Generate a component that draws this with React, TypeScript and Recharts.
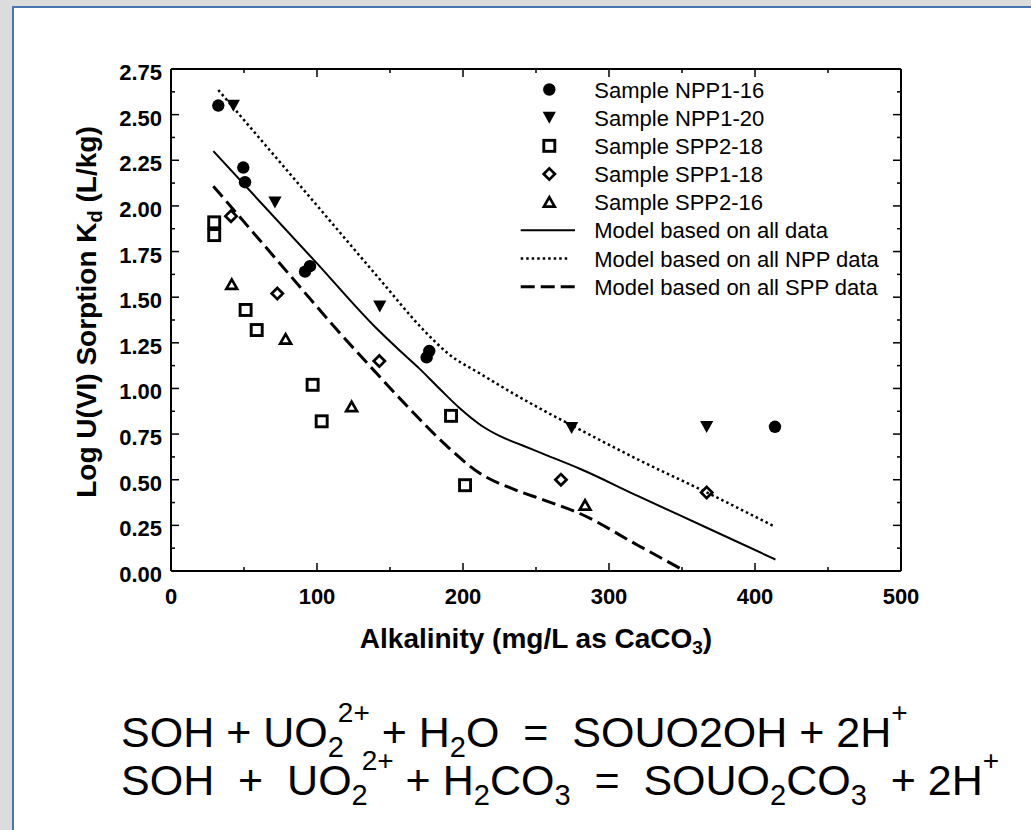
import React from 'react';
import { ComposedChart, Scatter, Line, XAxis, YAxis, Legend } from 'recharts';

const FONT = "'Liberation Sans', Arial, Helvetica, sans-serif";

// ---- axis ticks ----
const xTicks = [0, 50, 100, 150, 200, 250, 300, 350, 400, 450, 500];
const yTicks = [0, 0.125, 0.25, 0.375, 0.5, 0.625, 0.75, 0.875, 1, 1.125, 1.25, 1.375, 1.5, 1.625, 1.75, 1.875, 2, 2.125, 2.25, 2.375, 2.5, 2.625, 2.75];

// ---- sample data (alkalinity mg/L, log Kd) ----
const sampleNPP1_16 = [
  { x: 32.4, y: 2.55 }, { x: 49.5, y: 2.21 }, { x: 50.7, y: 2.13 },
  { x: 91.8, y: 1.64 }, { x: 95.2, y: 1.67 }, { x: 175.1, y: 1.17 },
  { x: 176.9, y: 1.205 }, { x: 413.7, y: 0.79 },
];
const sampleNPP1_20 = [
  { x: 42.7, y: 2.55 }, { x: 71.2, y: 2.02 }, { x: 143, y: 1.45 },
  { x: 274.4, y: 0.785 }, { x: 366.9, y: 0.79 },
];
const sampleSPP2_18 = [
  { x: 29.6, y: 1.91 }, { x: 29.6, y: 1.84 }, { x: 51.1, y: 1.43 },
  { x: 58.7, y: 1.32 }, { x: 97, y: 1.02 }, { x: 103.2, y: 0.82 },
  { x: 191.8, y: 0.85 }, { x: 201.4, y: 0.47 },
];
const sampleSPP1_18 = [
  { x: 41.1, y: 1.944 }, { x: 72.8, y: 1.52 }, { x: 142.7, y: 1.15 },
  { x: 267.1, y: 0.5 }, { x: 366.9, y: 0.43 },
];
const sampleSPP2_16 = [
  { x: 41.6, y: 1.57 }, { x: 78.5, y: 1.27 }, { x: 123.7, y: 0.9 },
  { x: 283.6, y: 0.36 },
];

// ---- model curves ----
const modelAll = [
  { x: 29, y: 2.3 }, { x: 100, y: 1.685 }, { x: 140, y: 1.335 }, { x: 155, y: 1.22 },
  { x: 170, y: 1.11 }, { x: 185, y: 0.99 }, { x: 198, y: 0.89 }, { x: 212, y: 0.8 },
  { x: 225, y: 0.74 }, { x: 240, y: 0.69 }, { x: 257, y: 0.635 }, { x: 280, y: 0.56 },
  { x: 320, y: 0.41 }, { x: 367, y: 0.237 }, { x: 414, y: 0.063 },
];
const modelNPP = [
  { x: 32.4, y: 2.635 }, { x: 100, y: 2.002 }, { x: 143, y: 1.598 }, { x: 173, y: 1.32 },
  { x: 190, y: 1.19 }, { x: 212, y: 1.08 }, { x: 235, y: 0.97 }, { x: 255, y: 0.88 },
  { x: 274, y: 0.8 }, { x: 320, y: 0.61 }, { x: 367, y: 0.43 }, { x: 413, y: 0.245 },
];
const modelSPP = [
  { x: 29, y: 2.108 }, { x: 80, y: 1.634 }, { x: 113.5, y: 1.323 }, { x: 140, y: 1.09 },
  { x: 166, y: 0.867 }, { x: 189, y: 0.684 }, { x: 211, y: 0.538 }, { x: 235, y: 0.447 },
  { x: 255, y: 0.39 }, { x: 280, y: 0.315 }, { x: 320, y: 0.14 }, { x: 352, y: 0 },
];

const sampleSeries = [
  { name: 'Sample NPP1-16', data: sampleNPP1_16, mark: 'circle' },
  { name: 'Sample NPP1-20', data: sampleNPP1_20, mark: 'triDown' },
  { name: 'Sample SPP2-18', data: sampleSPP2_18, mark: 'square' },
  { name: 'Sample SPP1-18', data: sampleSPP1_18, mark: 'diamond' },
  { name: 'Sample SPP2-16', data: sampleSPP2_16, mark: 'triUp' },
];
const modelSeries = [
  { name: 'Model based on all data', data: modelAll, width: 2, dash: undefined as string | undefined },
  { name: 'Model based on all NPP data', data: modelNPP, width: 2.5, dash: '2.5 3' },
  { name: 'Model based on all SPP data', data: modelSPP, width: 3, dash: '14 6' },
];

function Mark({ kind, cx, cy }: { kind: string; cx: number; cy: number }) {
  if (cx == null || cy == null) return null;
  switch (kind) {
    case 'circle':
      return <circle cx={cx} cy={cy} r={6.2} fill="#000" />;
    case 'triDown':
      return <polygon points={`${cx - 6.6},${cy - 5.8} ${cx + 6.6},${cy - 5.8} ${cx},${cy + 6.2}`} fill="#000" />;
    case 'square':
      return <rect x={cx - 5.5} y={cy - 5.5} width={11} height={11} fill="none" stroke="#000" strokeWidth={2.9} />;
    case 'diamond':
      return <polygon points={`${cx},${cy - 5.6} ${cx + 5.6},${cy} ${cx},${cy + 5.6} ${cx - 5.6},${cy}`} fill="none" stroke="#000" strokeWidth={2.7} />;
    case 'triUp':
      return <polygon points={`${cx - 5.4},${cy + 4.4} ${cx + 5.4},${cy + 4.4} ${cx},${cy - 5}`} fill="none" stroke="#000" strokeWidth={2.7} strokeLinejoin="miter" />;
    default:
      return null;
  }
}

const isMajorX = (v: number) => Math.abs(v / 100 - Math.round(v / 100)) < 1e-6;
const isMajorY = (v: number) => Math.abs(v * 4 - Math.round(v * 4)) < 1e-6;

const BottomTick = (p: any) => {
  const { x, y, payload } = p;
  const major = isMajorX(payload.value);
  return (
    <g>
      <line x1={x} y1={y} x2={x} y2={y - (major ? 8 : 4)} stroke="#000" strokeWidth={1.5} />
      {major && (
        <text x={x} y={y + 33} textAnchor="middle" fontFamily={FONT} fontSize={22} fontWeight="bold" fill="#000">
          {payload.value}
        </text>
      )}
    </g>
  );
};
const TopTick = (p: any) => {
  const { x, y, payload } = p;
  const major = isMajorX(payload.value);
  return <line x1={x} y1={y} x2={x} y2={y + (major ? 8 : 4)} stroke="#000" strokeWidth={1.5} />;
};
const LeftTick = (p: any) => {
  const { x, y, payload } = p;
  const major = isMajorY(payload.value);
  return (
    <g>
      <line x1={x} y1={y} x2={x + (major ? 8 : 4)} y2={y} stroke="#000" strokeWidth={1.5} />
      {major && (
        <text x={x - 9} y={y + 11} textAnchor="end" fontFamily={FONT} fontSize={22} fontWeight="bold" fill="#000">
          {Number(payload.value).toFixed(2)}
        </text>
      )}
    </g>
  );
};
const RightTick = (p: any) => {
  const { x, y, payload } = p;
  const major = isMajorY(payload.value);
  return <line x1={x} y1={y} x2={x - (major ? 8 : 4)} y2={y} stroke="#000" strokeWidth={1.5} />;
};

const XTitle = (p: any) => {
  const vb = p.viewBox || { x: 171, y: 571, width: 730, height: 30 };
  const cx = vb.x + vb.width / 2;
  const y = vb.y + 77;
  return (
    <text x={cx} y={y} textAnchor="middle" fontFamily={FONT} fontSize={28} fontWeight="bold" fill="#000">
      Alkalinity (mg/L as CaCO<tspan dy={6} fontSize={19}>3</tspan><tspan dy={-6}>)</tspan>
    </text>
  );
};
const YTitle = (p: any) => {
  const vb = p.viewBox || { x: 111, y: 69, width: 60, height: 502 };
  const cx = vb.x - 15;
  const cy = vb.y + vb.height / 2 - 8;
  return (
    <text x={cx} y={cy} transform={`rotate(-90, ${cx}, ${cy})`} textAnchor="middle" fontFamily={FONT} fontSize={28} fontWeight="bold" fill="#000">
      Log U(VI) Sorption K<tspan dy={6} fontSize={20}>d</tspan><tspan dy={-6}> (L/kg)</tspan>
    </text>
  );
};

const LEG_LEFT = 505;
const LEG_TOP = 70;
const LegendBox = () => {
  const rowY = (i: number) => 19.5 + 28.17 * i;
  return (
    <svg width={420} height={240} style={{ display: 'block', overflow: 'visible' }}>
      {sampleSeries.map((s, i) => (
        <g key={s.name}>
          <Mark kind={s.mark} cx={44.3} cy={rowY(i)} />
          <text x={89.3} y={rowY(i) + 8} fontFamily={FONT} fontSize={22} fill="#000">{s.name}</text>
        </g>
      ))}
      {modelSeries.map((m, j) => {
        const i = sampleSeries.length + j;
        return (
          <g key={m.name}>
            <line x1={15.7} x2={m.dash === '2.5 3' ? 65 : 70} y1={rowY(i)} y2={rowY(i)} stroke="#000" strokeWidth={m.width} strokeDasharray={m.dash} />
            <text x={89.3} y={rowY(i) + 8} fontFamily={FONT} fontSize={22} fill="#000">{m.name}</text>
          </g>
        );
      })}
    </svg>
  );
};

const SUB = 10;
const SUP = 25;
const SUPDX = -6;

export default function App() {
  return (
    <div style={{ position: 'absolute', left: 0, top: 0, width: 1031, height: 830, background: '#dcdcdc', overflow: 'hidden' }}>
      <div style={{ position: 'absolute', left: 12, top: 6, right: 0, bottom: 0, background: '#ffffff', borderTop: '2px solid #4a76b0', borderLeft: '2px solid #4a76b0' }} />
      <div style={{ position: 'absolute', left: 0, top: 0 }}>
        <ComposedChart width={1031} height={680} margin={{ top: 59, right: 120, left: 111, bottom: 79 }}>
          <XAxis xAxisId="bottom" dataKey="x" type="number" domain={[0, 500]} allowDataOverflow ticks={xTicks} interval={0}
            tickSize={0} tickMargin={0} tickLine={false} tick={<BottomTick />} height={30}
            axisLine={{ stroke: '#000', strokeWidth: 2 }} label={<XTitle />} />
          <XAxis xAxisId="top" orientation="top" dataKey="x" type="number" domain={[0, 500]} allowDataOverflow ticks={xTicks} interval={0}
            tickSize={0} tickMargin={0} tickLine={false} tick={<TopTick />} height={10}
            axisLine={{ stroke: '#000', strokeWidth: 2 }} />
          <YAxis yAxisId="left" type="number" domain={[0, 2.75]} allowDataOverflow ticks={yTicks} interval={0}
            tickSize={0} tickMargin={0} tickLine={false} tick={<LeftTick />} width={60}
            axisLine={{ stroke: '#000', strokeWidth: 2 }} label={<YTitle />} />
          <YAxis yAxisId="right" orientation="right" type="number" domain={[0, 2.75]} allowDataOverflow ticks={yTicks} interval={0}
            tickSize={0} tickMargin={0} tickLine={false} tick={<RightTick />} width={10}
            axisLine={{ stroke: '#000', strokeWidth: 2 }} />
          <Scatter xAxisId="top" yAxisId="right" data={[]} dataKey="y" isAnimationActive={false} legendType="none" />
          {modelSeries.map((m) => (
            <Line key={m.name} xAxisId="bottom" yAxisId="left" name={m.name} data={m.data} dataKey="y" type="monotone"
              stroke="#000" strokeWidth={m.width} strokeDasharray={m.dash} dot={false} activeDot={false} isAnimationActive={false} />
          ))}
          {sampleSeries.map((s) => (
            <Scatter key={s.name} xAxisId="bottom" yAxisId="left" name={s.name} data={s.data} dataKey="y" isAnimationActive={false}
              shape={(props: any) => <Mark kind={s.mark} cx={props.cx} cy={props.cy} />} />
          ))}
          <Legend layout="horizontal" verticalAlign="middle" align="center"
            wrapperStyle={{ position: 'absolute', left: LEG_LEFT, top: LEG_TOP, width: 420, height: 240 }}
            content={() => <LegendBox />} />
        </ComposedChart>
      </div>
      <svg width={1031} height={830} style={{ position: 'absolute', left: 0, top: 0, pointerEvents: 'none' }}>
        <text x={121} y={747} fontFamily={FONT} fontSize={43} fill="#000" xmlSpace="preserve" style={{ whiteSpace: 'pre' }}>
          {'SOH + UO'}
          <tspan dy={SUB} fontSize={29}>2</tspan>
          <tspan dx={SUPDX} dy={-SUB - SUP} fontSize={28}>2+</tspan>
          <tspan dy={SUP}>{' + H'}</tspan>
          <tspan dy={SUB} fontSize={29}>2</tspan>
          <tspan dy={-SUB}>{'O  =  SOUO2OH + 2H'}</tspan>
          <tspan dy={-SUP} fontSize={28}>+</tspan>
        </text>
        <text x={121} y={795} fontFamily={FONT} fontSize={43} fill="#000" xmlSpace="preserve" style={{ whiteSpace: 'pre' }}>
          {'SOH  +  UO'}
          <tspan dy={SUB} fontSize={29}>2</tspan>
          <tspan dx={SUPDX} dy={-SUB - SUP} fontSize={28}>2+</tspan>
          <tspan dy={SUP}>{' + H'}</tspan>
          <tspan dy={SUB} fontSize={29}>2</tspan>
          <tspan dy={-SUB}>CO</tspan>
          <tspan dy={SUB} fontSize={29}>3</tspan>
          <tspan dy={-SUB}>{'  =  SOUO'}</tspan>
          <tspan dy={SUB} fontSize={29}>2</tspan>
          <tspan dy={-SUB}>CO</tspan>
          <tspan dy={SUB} fontSize={29}>3</tspan>
          <tspan dy={-SUB}>{'  + 2H'}</tspan>
          <tspan dy={-SUP} fontSize={28}>+</tspan>
        </text>
      </svg>
    </div>
  );
}
